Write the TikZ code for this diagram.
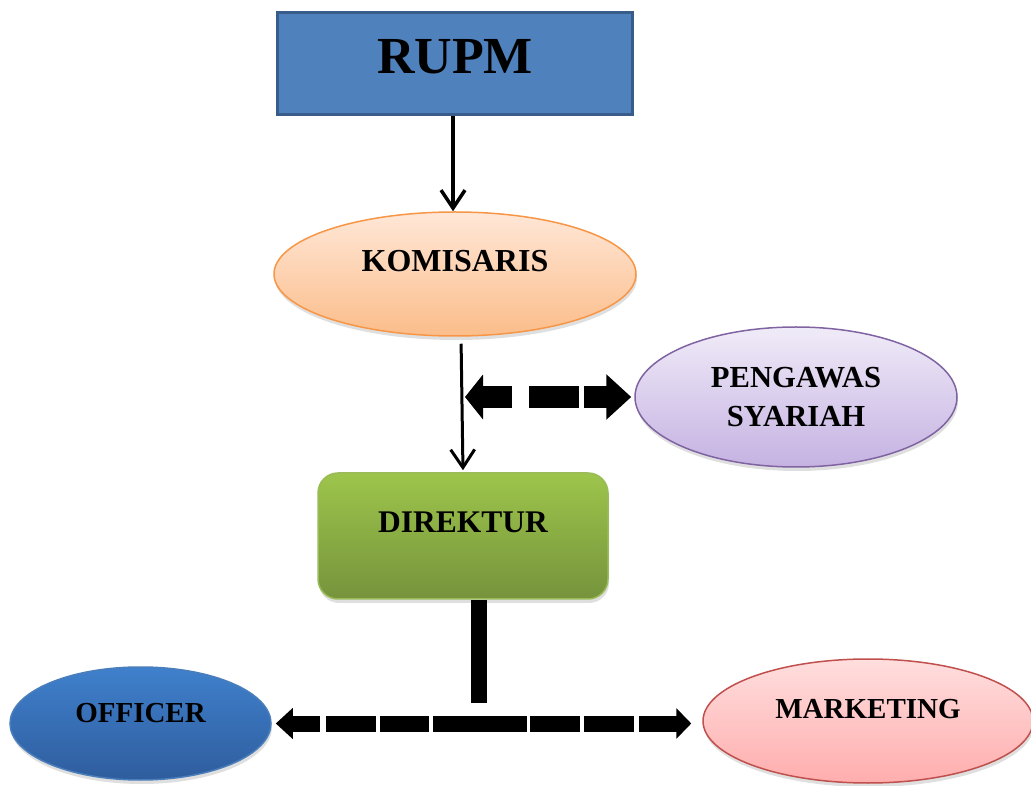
\documentclass[tikz,border=0pt]{standalone}
\usepackage{fontspec}
\setmainfont{Liberation Serif}
\usetikzlibrary{arrows.meta,shapes.geometric,shadows}
\definecolor{rupmfill}{HTML}{4F81BD}
\definecolor{rupmline}{HTML}{385D8A}
\definecolor{komtop}{HTML}{FFE7D7}
\definecolor{kombot}{HTML}{FBBD8A}
\definecolor{komline}{HTML}{F79646}
\definecolor{pengtop}{HTML}{F0EBF8}
\definecolor{pengbot}{HTML}{C5B2E2}
\definecolor{pengline}{HTML}{8064A2}
\definecolor{dirtop}{HTML}{9DC54B}
\definecolor{dirbot}{HTML}{76933C}
\definecolor{dirline}{HTML}{9BBB59}
\definecolor{offtop}{HTML}{3F80CC}
\definecolor{offbot}{HTML}{2F5D9E}
\definecolor{offline}{HTML}{4A7EBB}
\definecolor{mkttop}{HTML}{FFDEDE}
\definecolor{mktbot}{HTML}{FFADAD}
\definecolor{mktline}{HTML}{C0504D}
\tikzset{
  >={Straight Barb[length=18pt,width=24pt]},
  head/.style={
    draw=rupmline, fill=rupmfill, line width=3pt, inner sep=0pt,
    minimum width=355pt, minimum height=102pt,
    font=\bfseries\fontsize{52}{60}\selectfont,
    text height=35pt, text depth=14pt
  },
  oval/.style={
    ellipse, line width=1.5pt, inner sep=0pt, align=center,
    font=\bfseries\fontsize{29}{39}\selectfont,
    drop shadow={shadow xshift=1pt, shadow yshift=-4pt, opacity=0.25}
  },
  chief/.style={
    rectangle, rounded corners=20pt, line width=1.5pt, inner sep=0pt,
    draw=dirline, top color=dirtop, bottom color=dirbot,
    minimum width=290pt, minimum height=126pt,
    font=\bfseries\fontsize{31.5}{38}\selectfont,
    text height=21pt, text depth=27pt,
    drop shadow={shadow xshift=1pt, shadow yshift=-4pt, opacity=0.25}
  },
  link/.style={line width=3.5pt, ->},
  bar/.style={line width=16pt},
  duo/.style={
    line width=22pt,
    {Triangle[length=18pt,width=44pt]}-{Triangle[length=25pt,width=44pt]},
    dash pattern=on 30pt off 17pt on 50pt off 5pt on 40pt off 0pt
  },
  fan/.style={
    line width=16pt,
    {Triangle[length=17pt,width=30pt]}-{Triangle[length=15pt,width=30pt]},
    dash pattern=on 28pt off 6pt on 50pt off 4pt on 49pt off 4pt on 94pt
      off 3pt on 50pt off 4pt on 50pt off 5pt on 40pt off 0pt
  },
}

\begin{document}
\begin{tikzpicture}[x=1pt, y=1pt]
  \useasboundingbox (0,0) rectangle (1031,785);

  \node[head] (rupm) at (455,721.5) {RUPM};
  \node[oval, draw=komline, top color=komtop, bottom color=kombot,
    minimum width=362pt, minimum height=124pt,
    font=\bfseries\fontsize{32}{38}\selectfont,
    text height=21pt, text depth=25pt] (kom) at (455,511) {KOMISARIS};
  \node[oval, draw=pengline, top color=pengtop, bottom color=pengbot,
    minimum width=322pt, minimum height=140pt,
    font=\bfseries\fontsize{30.6}{39}\selectfont] (peng) at (796,388)
    {PENGAWAS\\SYARIAH};
  \node[chief] (dir) at (463,249) {DIREKTUR};
  \node[oval, draw=offline, top color=offtop, bottom color=offbot,
    minimum width=261pt, minimum height=113pt,
    text height=19.5pt, text depth=21.5pt] (off) at (140.5,61.5) {OFFICER};
  \node[oval, draw=mktline, top color=mkttop, bottom color=mktbot,
    minimum width=330pt, minimum height=124pt,
    text height=19.5pt, text depth=25.5pt] (mkt) at (868,64) {MARKETING};

  \draw[link] ([xshift=-2pt]rupm.south) -- ([xshift=-2pt]kom.north);
  \draw[link, line width=3pt, shorten <=7pt, shorten >=2pt]
    ([xshift=6pt]kom.south) -- (dir.north);

  \coordinate (mid) at (dir.north |- peng.west);
  \draw[duo, shorten <=2pt, shorten >=3pt] (mid) -- (peng.west);

  \coordinate (tee) at (479,82);
  \draw[bar] (dir.south -| tee) -- (tee);
  \draw[fan, shorten <=4pt, shorten >=11pt] (off.east) -- (off.east -| mkt.west);
\end{tikzpicture}
\end{document}
